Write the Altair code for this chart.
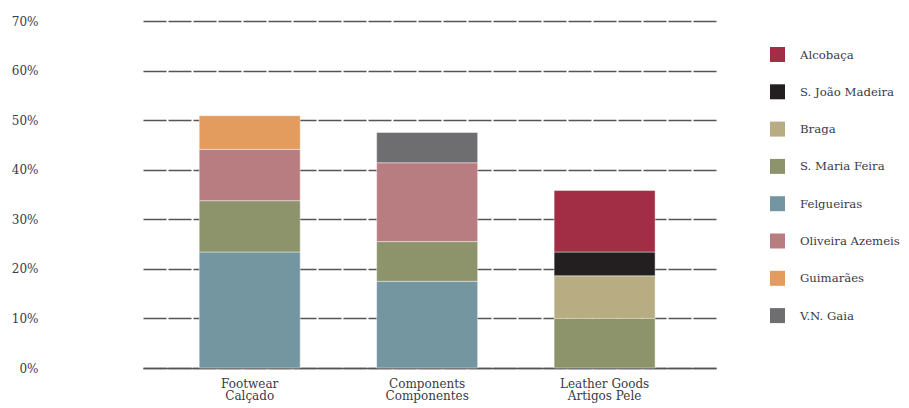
import altair as alt
import pandas as pd

categories = ["Footwear\nCalçado", "Components\nComponentes", "Leather Goods\nArtigos Pele"]
legend_regions = ["Alcobaça", "S. João Madeira", "Braga", "S. Maria Feira",
                  "Felgueiras", "Oliveira Azemeis", "Guimarães", "V.N. Gaia"]
legend_colors = ["#A22E45", "#231F20", "#B8AC82", "#8D946B",
                 "#7396A1", "#B87D81", "#E39B5E", "#6E6E70"]
stack_order = ["Felgueiras", "S. Maria Feira", "Braga", "S. João Madeira",
               "Alcobaça", "Oliveira Azemeis", "Guimarães", "V.N. Gaia"]

footwear_regions = ["Felgueiras", "S. Maria Feira", "Oliveira Azemeis", "Guimarães"]
footwear_values = [23.4, 10.35, 10.35, 6.8]
components_regions = ["Felgueiras", "S. Maria Feira", "Oliveira Azemeis", "V.N. Gaia"]
components_values = [17.5, 8.0, 15.9, 6.1]
leather_regions = ["S. Maria Feira", "Braga", "S. João Madeira", "Alcobaça"]
leather_values = [10.0, 8.6, 4.8, 12.4]

y_ticks = [0, 10, 20, 30, 40, 50, 60, 70]

rows = []
for cat, regs, vals in zip(categories,
                           [footwear_regions, components_regions, leather_regions],
                           [footwear_values, components_values, leather_values]):
    for r, v in zip(regs, vals):
        rows.append({"category": cat, "region": r, "value": v,
                     "stack_idx": stack_order.index(r)})
df = pd.DataFrame(rows)

FONT = "DejaVu Serif"
TXT = "#3a3a48"

chart = alt.Chart(df).mark_bar(stroke="white", strokeWidth=0.6, strokeOpacity=0.7).encode(
    x=alt.X("category:N", sort=categories,
            scale=alt.Scale(paddingInner=0.431, paddingOuter=0.33, align=0.48),
            axis=alt.Axis(title=None, labelAngle=0,
                          labelExpr="split(datum.label, '\\n')",
                          labelFont=FONT, labelFontSize=12, labelColor=TXT,
                          labelPadding=10, labelLineHeight=12.5, ticks=False,
                          domainColor="#555555", domainWidth=1.5)),
    y=alt.Y("value:Q", stack="zero",
            scale=alt.Scale(domain=[0, 70], nice=False),
            axis=alt.Axis(title=None, values=y_ticks,
                          labelExpr="datum.value + '%'",
                          labelFont=FONT, labelFontSize=12, labelColor=TXT,
                          grid=True, gridDash=[23, 2], gridColor="#555555", gridWidth=1.5,
                          domain=False, ticks=False, tickSize=0, labelPadding=105)),
    color=alt.Color("region:N",
                    scale=alt.Scale(domain=legend_regions, range=legend_colors),
                    legend=alt.Legend(title=None, orient="none", legendX=627, legendY=26,
                                      symbolType="square", symbolSize=225,
                                      symbolStrokeWidth=0, symbolOpacity=1,
                                      labelFont=FONT, labelFontSize=11.7, labelColor=TXT,
                                      rowPadding=22.3, labelOffset=15, padding=0,
                                      labelLimit=200)),
    order=alt.Order("stack_idx:Q", sort="ascending"),
).properties(
    width=573, height=347,
    padding={"left": 135, "top": 13, "right": 185, "bottom": 40},
    autosize=alt.AutoSizeParams(type="none"),
).configure_view(stroke=None)

chart.save("out.html", embed_options={"renderer": "svg", "actions": False})
